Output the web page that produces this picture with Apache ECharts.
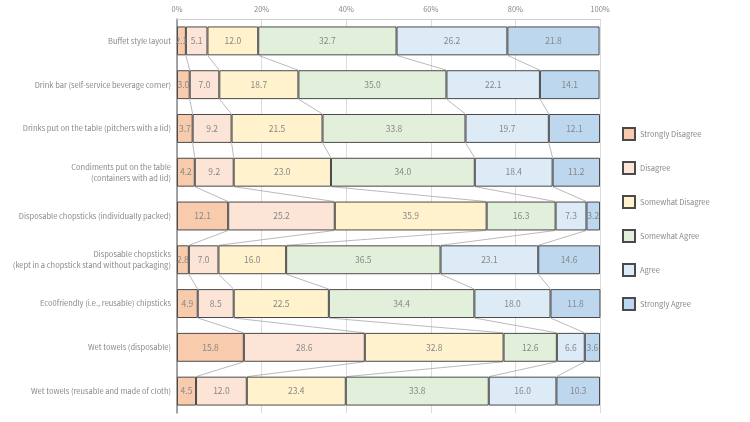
<!DOCTYPE html>
<html>
<head>
<meta charset="utf-8">
<script src="https://cdn.jsdelivr.net/npm/echarts@6/dist/echarts.min.js"></script>
<style>
  html, body { margin: 0; padding: 0; background: #fff; }
  #chart { width: 750px; height: 422px; }
</style>
</head>
<body>
<div id="chart"></div>
<script>
  // categories, top to bottom
  var categories = [
    'Buffet style layout',
    'Drink bar (self-service beverage corner)',
    'Drinks put on the table (pitchers with a lid)',
    'Condiments put on the table\n(containers with ad lid)',
    'Disposable chopsticks (individually packed)',
    'Disposable chopsticks\n(kept in a chopstick stand without packaging)',
    'Eco0friendly (i.e., reusable) chipsticks',
    'Wet towels (disposable)',
    'Wet towels (reusable and made of cloth)'
  ];

  var seriesNames = ['Strongly Disagree', 'Disagree', 'Somewhat Disagree', 'Somewhat Agree', 'Agree', 'Strongly Agree'];
  var colors = ['#F8CBAD', '#FCE4D6', '#FFF2CC', '#E2EFDA', '#DDEBF7', '#BDD7EE'];

  var stronglyDisagree = [2.1, 3.0, 3.7, 4.2, 12.1, 2.8, 4.9, 15.8, 4.5];
  var disagree         = [5.1, 7.0, 9.2, 9.2, 25.2, 7.0, 8.5, 28.6, 12.0];
  var somewhatDisagree = [12.0, 18.7, 21.5, 23.0, 35.9, 16.0, 22.5, 32.8, 23.4];
  var somewhatAgree    = [32.7, 35.0, 33.8, 34.0, 16.3, 36.5, 34.4, 12.6, 33.8];
  var agree            = [26.2, 22.1, 19.7, 18.4, 7.3, 23.1, 18.0, 6.6, 16.0];
  var stronglyAgree    = [21.8, 14.1, 12.1, 11.2, 3.2, 14.6, 11.8, 3.6, 10.3];

  var xTicks = [0, 20, 40, 60, 80, 100];

  var allSeries = [stronglyDisagree, disagree, somewhatDisagree, somewhatAgree, agree, stronglyAgree];
  var barRatio = 0.66;

  // cumulative boundaries for each category (5 inner edges)
  function cumulative(i) {
    var out = [], s = 0;
    for (var k = 0; k < allSeries.length - 1; k++) {
      s += allSeries[k][i];
      out.push(s);
    }
    return out;
  }

  var connectorData = [];
  for (var i = 0; i < categories.length - 1; i++) {
    connectorData.push([i].concat(cumulative(i), cumulative(i + 1)));
  }

  var series = seriesNames.map(function (name, k) {
    return {
      name: name,
      type: 'bar',
      stack: 'total',
      barWidth: (barRatio * 100) + '%',
      data: allSeries[k],
      itemStyle: { color: colors[k], borderColor: '#4a4a4a', borderWidth: 1 },
      label: {
        show: true,
        position: 'inside',
        color: '#888',
        fontSize: 8.5,
        overflow: 'none',
        formatter: function (p) { return p.value.toFixed(1); }
      },
      labelLayout: { hideOverlap: false },
      emphasis: { disabled: true }
    };
  });

  series.push({
    type: 'custom',
    name: 'connectors',
    silent: true,
    z: 1,
    encode: { x: [1, 2, 3, 4, 5, 6, 7, 8, 9, 10], y: 0 },
    data: connectorData,
    renderItem: function (params, api) {
      var idx = api.value(0);
      var half = api.size([0, 1])[1] * barRatio / 2;
      var children = [];
      for (var k = 0; k < 5; k++) {
        var a = api.coord([api.value(1 + k), idx]);
        var b = api.coord([api.value(6 + k), idx + 1]);
        children.push({
          type: 'line',
          shape: { x1: a[0], y1: a[1] + half, x2: b[0], y2: b[1] - half },
          style: { stroke: '#a8a8a8', lineWidth: 0.8 }
        });
      }
      return { type: 'group', children: children };
    }
  });

  var chart = echarts.init(document.getElementById('chart'));
  chart.setOption({
    animation: false,
    textStyle: { fontFamily: '"Noto Sans CJK JP", "Noto Sans", sans-serif' },
    legend: {
      data: seriesNames,
      orient: 'vertical',
      left: 617,
      top: 122,
      itemWidth: 12,
      itemHeight: 12,
      itemGap: 20,
      icon: 'rect',
      textStyle: { color: '#888', fontSize: 7.5 }
    },
    grid: { left: 177, right: 150, top: 19, bottom: 9, outerBoundsMode: 'none', containLabel: false },
    xAxis: {
      type: 'value',
      position: 'top',
      min: 0,
      max: 100,
      interval: 20,
      axisLine: { show: true, lineStyle: { color: '#d0d0d0' } },
      axisTick: { show: false },
      axisLabel: {
        color: '#888',
        fontSize: 7.5,
        margin: 6,
        formatter: function (v) { return xTicks.indexOf(v) >= 0 ? v + '%' : ''; }
      },
      splitLine: { show: true, lineStyle: { color: '#dcdcdc' } }
    },
    yAxis: {
      type: 'category',
      inverse: true,
      data: categories,
      axisLine: { show: true, lineStyle: { color: '#888', width: 1.5 } },
      axisTick: { show: false },
      axisLabel: { color: '#888', fontSize: 7.5, margin: 6, lineHeight: 11 }
    },
    series: series
  });
</script>
</body>
</html>
